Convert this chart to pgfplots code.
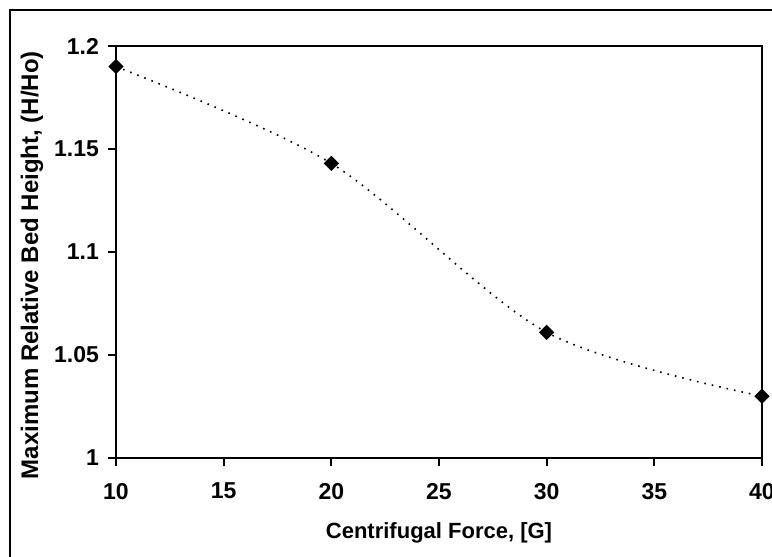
\documentclass[border=0pt]{standalone}
\usepackage{pgfplots}
\pgfplotsset{compat=1.18}
\usepackage{fontspec}
\setmainfont{Liberation Sans}
\begin{document}
\begin{tikzpicture}
\useasboundingbox (-58pt,-49.5pt) rectangle (328pt,229pt);
\draw[line width=1pt] (-53pt,-49.5pt) -- (-53pt,224pt) -- (328pt,224pt);
\begin{axis}[
  at={(0pt,0pt)}, anchor=origin,
  scale only axis, width=323pt, height=206pt,
  xmin=10, xmax=40, ymin=1, ymax=1.2,
  xtick={10,15,...,40}, ytick={1,1.05,1.1,1.15,1.2},
  yticklabels={1,1.05,1.1,1.15,1.2},
  tick pos=left, tick align=outside, major tick length=4pt,
  axis line style={line width=0.9pt},
  major tick style={line width=0.9pt, black},
  /pgf/number format/assume math mode=true,
  ticklabel style={font=\fontsize{11.5}{13}\selectfont\bfseries},
  xticklabel style={yshift=-5pt},
  yticklabel style={xshift=-1pt},
  xlabel={Centrifugal Force, [G]},
  ylabel={Maximum Relative Bed Height, (H/Ho)},
  xlabel style={font=\fontsize{11}{13}\selectfont\bfseries, at={(axis description cs:0.5,-0.182)}, anchor=center},
  ylabel style={font=\fontsize{12}{14}\selectfont\bfseries, at={(axis description cs:-0.130,0.468)}, anchor=center},
  clip=false,
]
\addplot[black, line width=0.8pt, dash pattern=on 0.8pt off 3pt, smooth, tension=0.5,
  mark=square*, mark size=2.3pt, mark options={solid, rotate=45, fill=black}]
  coordinates {(10,1.190) (20,1.143) (30,1.061) (40,1.030)};
\end{axis}
\end{tikzpicture}
\end{document}
